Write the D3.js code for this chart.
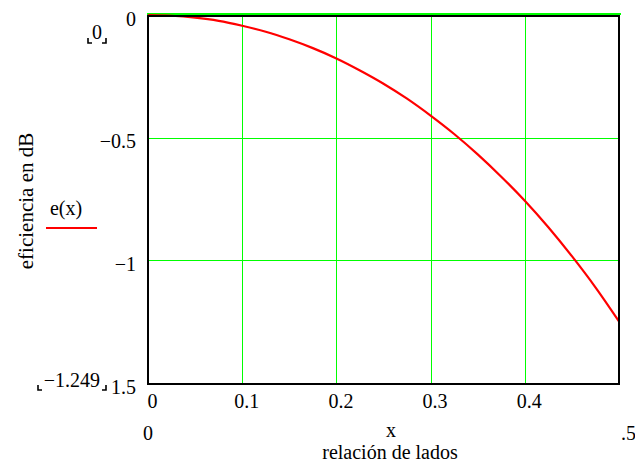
<!DOCTYPE html>
<html>
<head>
<meta charset="utf-8">
<script src="https://cdn.jsdelivr.net/npm/d3@7/dist/d3.min.js"></script>
<style>
  html, body { margin: 0; padding: 0; background: #fff; }
  svg { display: block; }
  text { font-family: "Liberation Serif", "Times New Roman", serif; fill: #000; }
</style>
</head>
<body>
<svg id="chart" width="635" height="464"></svg>
<script>
// Side ratio x and efficiency e(x) in dB
const xValues = [0, 0.025, 0.05, 0.075, 0.1, 0.125, 0.15, 0.175, 0.2, 0.225, 0.25,
                 0.275, 0.3, 0.325, 0.35, 0.375, 0.4, 0.425, 0.45, 0.475, 0.5];
const eValues = [0, -0.003, -0.011, -0.024, -0.044, -0.068, -0.099, -0.135, -0.177, -0.226, -0.280,
                 -0.341, -0.410, -0.485, -0.568, -0.659, -0.757, -0.865, -0.983, -1.110, -1.249];

// Axis ticks and limits (the minus of the last y label sits under the limit marker)
const xTicks = [0, 0.1, 0.2, 0.3, 0.4];
const xTickLabels = ["0", "0.1", "0.2", "0.3", "0.4"];
const yTicks = [0, -0.5, -1, -1.5];
const yTickLabels = ["0", "\u22120.5", "\u22121", "1.5"];
const xLimits = [0, 0.5];
const yLimits = [0, -1.5];
const xLimitLabels = ["0", ".5"];
const yLimitLabels = ["0", "\u22121.249"];

const FONT = "'Liberation Serif', 'Times New Roman', serif";
const svg = d3.select("#chart");
const pLeft = 148, pRight = 619, pTop = 15, pBottom = 383;

const x = d3.scaleLinear().domain(xLimits).range([pLeft, pRight]);
const y = d3.scaleLinear().domain(yLimits).range([pTop, pBottom]);

// Grid lines
const grid = svg.append("g").attr("stroke", "#00ff00").attr("stroke-width", 1).attr("shape-rendering", "crispEdges");
grid.selectAll("line.v").data(xTicks.slice(1)).join("line")
  .attr("x1", d => Math.round(x(d)) + 0.5).attr("x2", d => Math.round(x(d)) + 0.5)
  .attr("y1", pTop).attr("y2", pBottom);
grid.selectAll("line.h").data(yTicks.slice(1, -1)).join("line")
  .attr("x1", pLeft).attr("x2", pRight)
  .attr("y1", d => Math.round(y(d)) + 0.5).attr("y2", d => Math.round(y(d)) + 0.5);
// zero line along the top edge
grid.append("line").attr("x1", pLeft - 1).attr("x2", pRight + 2)
  .attr("y1", y(0) - 1).attr("y2", y(0) - 1).attr("stroke-width", 2);

// Curve
const line = d3.line().x(d => x(d[0])).y(d => y(d[1])).curve(d3.curveMonotoneX);
svg.append("path")
  .datum(xValues.map((v, i) => [v, eValues[i]]))
  .attr("d", line)
  .attr("fill", "none")
  .attr("stroke", "#ff0000")
  .attr("stroke-width", 2.2);

// Frame
svg.append("rect")
  .attr("x", pLeft).attr("y", pTop + 1)
  .attr("width", pRight - pLeft).attr("height", pBottom - pTop)
  .attr("fill", "none").attr("stroke", "#000").attr("stroke-width", 2)
  .attr("shape-rendering", "crispEdges");

// Bottom tick labels
const xAxis = d3.axisBottom(x).tickValues(xTicks)
  .tickFormat((d, i) => xTickLabels[i]).tickSize(0).tickPadding(0);
const gx = svg.append("g").attr("transform", `translate(4, ${pBottom + 25})`).call(xAxis);
gx.select(".domain").remove();
gx.selectAll("text").attr("font-size", 20).attr("dy", 0).style("font-family", FONT);

// Left tick labels
const yAxis = d3.axisLeft(y).tickValues(yTicks)
  .tickFormat((d, i) => yTickLabels[i]).tickSize(0).tickPadding(0);
const gy = svg.append("g").attr("transform", `translate(136, 10)`).call(yAxis);
gy.select(".domain").remove();
gy.selectAll("text").attr("font-size", 20).attr("dy", 0).style("font-family", FONT);

const label = (tx, ty, anchor, size, str) => svg.append("text")
  .attr("x", tx).attr("y", ty).attr("text-anchor", anchor)
  .attr("font-size", size).style("font-family", FONT).text(str);

// Axis limit labels
label(x(xLimits[0]), 440, "middle", 20, xLimitLabels[0]);
label(621, 440, "start", 20, xLimitLabels[1]);
label(97, 39, "middle", 20, yLimitLabels[0]);
label(100, 387, "end", 20, yLimitLabels[1]);

// Corner markers around the limit labels
const marker = (cx, cy, dir) => svg.append("path")
  .attr("d", dir < 0 ? `M${cx},${cy - 5}V${cy}H${cx + 4}` : `M${cx},${cy - 5}V${cy}H${cx - 4}`)
  .attr("fill", "none").attr("stroke", "#000").attr("stroke-width", 1.6);
marker(88, 43, -1); marker(106, 43, 1);
marker(38, 390, -1); marker(106, 390, 1);

// Axis titles
label(391, 437, "middle", 20, "x");
label(390, 459, "middle", 20, "relación de lados");
svg.append("text").attr("transform", "translate(33, 201) rotate(-90)")
  .attr("text-anchor", "middle").attr("font-size", 21).style("font-family", FONT)
  .text("eficiencia en dB");

// Legend
label(66, 215, "middle", 20, "e(x)");
svg.append("line").attr("x1", 46).attr("x2", 97).attr("y1", 228).attr("y2", 228)
  .attr("stroke", "#ff0000").attr("stroke-width", 2);
</script>
</body>
</html>
